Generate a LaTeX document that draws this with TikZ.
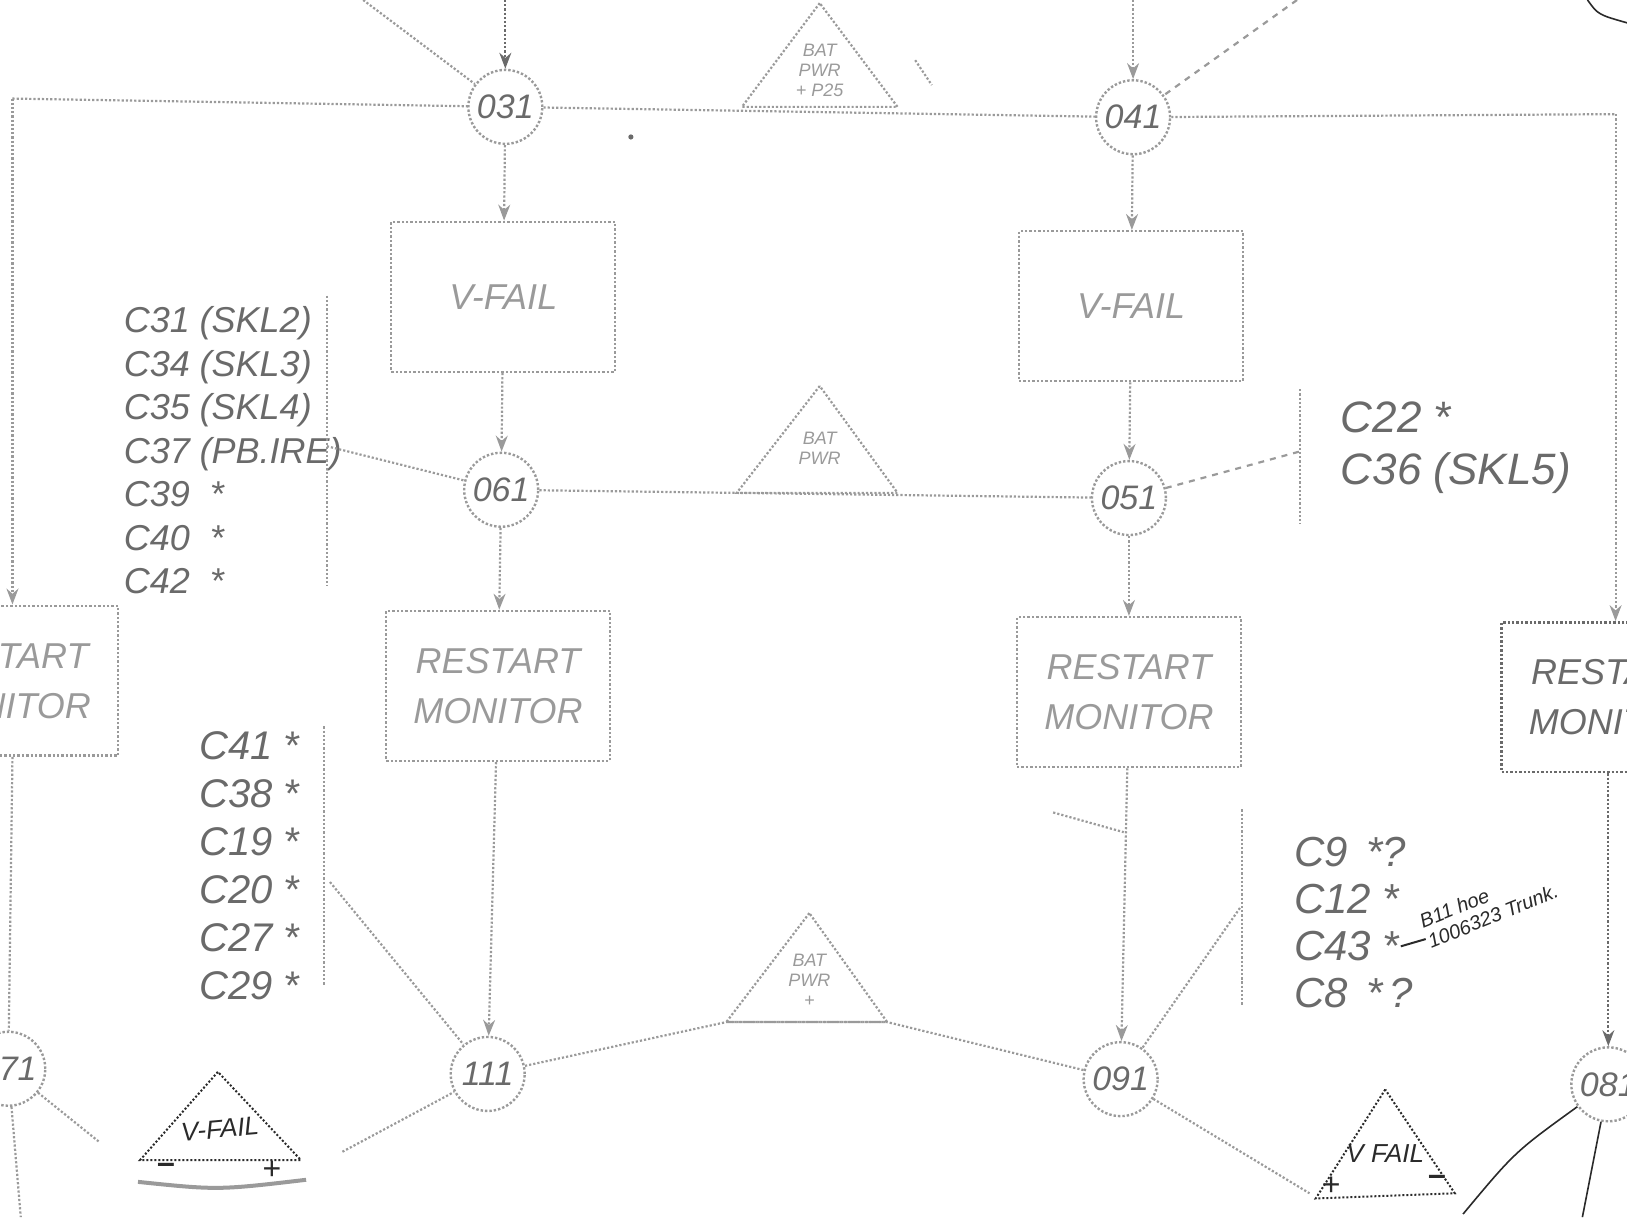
\documentclass[tikz,border=0pt]{standalone}
\usepackage{fontspec}
\setmainfont{Liberation Sans}
\usetikzlibrary{arrows.meta}
\definecolor{pencil}{HTML}{9A9A9A}
\definecolor{pencildark}{HTML}{6A6A6A}
\definecolor{inkblack}{HTML}{2A2A2A}

\begin{document}
\begin{tikzpicture}[
  x=0.519pt, y=-0.519pt,
  >=Stealth,
  line width=0.9pt,
  junction/.style={circle, draw=pencil, densely dotted, line width=1.2pt, minimum size=37pt, inner sep=0pt, font=\fontsize{17}{20}\selectfont\itshape, text=pencildark},
  block/.style={rectangle, draw=pencil, densely dotted, line width=1.2pt, minimum width=112pt, minimum height=75pt, align=center, font=\fontsize{18}{25}\selectfont\itshape, text=pencil},
  gate/.style={draw=pencil, densely dotted, line width=1.1pt},
  gatetext/.style={align=center, font=\fontsize{9}{10}\selectfont\itshape, text=pencil},
  notes/.style={align=left, anchor=north west, text=pencildark, font=\fontsize{19}{22}\selectfont\itshape},
  wire/.style={draw=pencil, densely dotted, line width=1.1pt},
  flow/.style={->, draw=pencil, densely dotted, line width=1.1pt},
  ink/.style={draw=inkblack, line width=1pt}
]
  \useasboundingbox (0,0) rectangle (1568,1173);
  \clip (0,0) rectangle (1568,1173);

  % junctions
  \node[junction] (c031) at (487,103) {031};
  \node[junction] (c041) at (1092,113) {041};
  \node[junction] (c061) at (483,472) {061};
  \node[junction] (c051) at (1088,480) {051};
  \node[junction] (c111) at (470,1035) {111};
  \node[junction] (c091) at (1080,1040) {091};
  \node[junction] (c071) at (8,1030) {071};
  \node[junction] (c081) at (1550,1045) {081};

  % blocks
  \node[block] (vfailL) at (485,286) {V-FAIL};
  \node[block] (vfailR) at (1090,295) {V-FAIL};
  \node[block] (rmL) at (480,661) {RESTART\\MONITOR};
  \node[block] (rmR) at (1088,667) {RESTART\\MONITOR};
  \node[block] (rmW) at (6,656) {RESTART\\MONITOR};
  \node[block, draw=pencildark, text=pencildark] (rmE) at (1555,672) {RESTART\\MONITOR};

  % gates
  \draw[gate] (790,3) -- (715,103) -- (865,103) -- cycle;
  \node[gatetext] (batTop) at (790,68) {BAT\\PWR\\+ P25};
  \draw[gate] (790,372) -- (710,475) -- (865,475) -- cycle;
  \node[gatetext] (batMid) at (790,432) {BAT\\PWR};
  \draw[gate] (780,880) -- (700,985) -- (855,985) -- cycle;
  \node[gatetext] (batLow) at (780,945) {BAT\\PWR\\+};

  \draw[ink, densely dotted] (210,1033) -- (135,1118) -- (290,1118) -- cycle;
  \node[text=inkblack, font=\fontsize{13}{14}\selectfont\itshape, rotate=5] (vfL) at (212,1088) {V-FAIL};
  \node[text=inkblack, font=\fontsize{16}{16}\selectfont\bfseries] (vfLm) at (160,1126) {--};
  \node[text=inkblack, font=\fontsize{16}{16}\selectfont] (vfLp) at (262,1128) {+};
  \draw[draw=pencil, line width=2pt] (133,1139) .. controls (210,1147) .. (295,1137);
  \draw[ink, densely dotted] (1335,1050) -- (1268,1155) -- (1402,1150) -- cycle;
  \node[text=inkblack, font=\fontsize{13}{14}\selectfont\itshape] (vfR) at (1335,1112) {V FAIL};
  \node[text=inkblack, font=\fontsize{16}{16}\selectfont] (vfRp) at (1283,1143) {+};
  \node[text=inkblack, font=\fontsize{16}{16}\selectfont\bfseries] (vfRm) at (1385,1138) {--};

  % notes
  \node[notes, font=\fontsize{18}{21.8}\selectfont\itshape] (listA) at (112,288) {C31 (SKL2)\\C34 (SKL3)\\C35 (SKL4)\\C37 (PB.IRE)\\C39 \ *\\C40 \ *\\C42 \ *};
  \node[notes, font=\fontsize{20}{24}\selectfont\itshape] (listB) at (185,698) {C41 *\\C38 *\\C19 *\\C20 *\\C27 *\\C29 *};
  \node[notes, font=\fontsize{22}{26}\selectfont\itshape] (listC) at (1285,380) {C22 *\\C36 (SKL5)};
  \node[notes, font=\fontsize{21}{23.4}\selectfont\itshape] (listD) at (1240,800) {C9 \,*?\\C12 *\\C43 *\\C8 \,*\,?};
  \node[anchor=south west, rotate=22, align=left, text=inkblack, font=\fontsize{10}{11}\selectfont\itshape, inner sep=1pt] (bnote) at (1378,918) {B11 hoe\\1006323 Trunk.};
  \draw[ink] (1350,912) -- (1374,905);

  % brackets
  \coordinate (brA1) at (315,285);
  \coordinate (brA2) at (315,565);
  \draw[wire] (brA1) -- (brA2);
  \coordinate (brB1) at (312,700);
  \coordinate (brB2) at (312,950);
  \draw[wire] (brB1) -- (brB2);
  \coordinate (brC1) at (1253,375);
  \coordinate (brC2) at (1253,505);
  \draw[wire] (brC1) -- (brC2);
  \coordinate (brD1) at (1197,780);
  \coordinate (brD2) at (1197,970);
  \draw[wire] (brD1) -- (brD2);

  % outer loop
  \coordinate (tl) at (12,95);
  \coordinate (tr) at (1557,110);
  \draw[wire] (tl) -- (c031);
  \draw[wire] (c031) -- (c041);
  \draw[wire] (c041) -- (tr);
  \draw[flow] (tl) -- (tl |- rmW.north);
  \draw[flow] (tr) -- (tr |- rmE.north);
  \draw[wire] (rmW.south -| tl) -- (c071);
  \draw[flow, draw=pencildark] (rmE.south -| c081) -- (c081);

  % inputs from above
  \coordinate (in031) at (487,0);
  \coordinate (in041) at (1092,0);
  \coordinate (dg031) at (350,0);
  \coordinate (dg041) at (1250,0);
  \draw[flow, draw=pencildark] (in031) -- (c031);
  \draw[flow] (in041) -- (c041);
  \draw[wire] (dg031) -- (c031);
  \draw[draw=pencil, dashed, line width=1.1pt] (dg041) -- (c041);

  % main columns
  \draw[flow] (c031) -- (vfailL);
  \draw[flow] (c041) -- (vfailR);
  \draw[flow] (vfailL) -- (c061);
  \draw[flow] (vfailR) -- (c051);
  \draw[flow] (c061) -- (rmL);
  \draw[flow] (c051) -- (rmR);
  \draw[flow] (rmL) -- (c111);
  \draw[flow] (rmR) -- (c091);
  \draw[wire] (c061) -- (c051);

  % side links
  \coordinate (tapA) at (315,430);
  \coordinate (tapB) at (318,850);
  \coordinate (tapC) at (1253,435);
  \coordinate (tapD) at (1195,875);
  \draw[wire] (tapA) -- (c061);
  \draw[wire] (tapB) -- (c111);
  \draw[draw=pencil, dashed, line width=1.1pt] (c051) -- (tapC);
  \draw[wire] (tapD) -- (c091);

  % bottom links
  \coordinate (gbl) at (700,985);
  \coordinate (gbr) at (855,985);
  \coordinate (vfLr) at (330,1110);
  \coordinate (vfRl) at (1262,1150);
  \draw[wire] (c111) -- (gbl) -- (gbr) -- (c091);
  \draw[wire] (vfLr) -- (c111);
  \draw[wire] (c091) -- (vfRl);
  \coordinate (lowW1) at (95,1100);
  \coordinate (lowW2) at (20,1173);
  \draw[wire] (c071) -- (lowW1);
  \draw[wire] (c071) -- (lowW2);
  \coordinate (lowE1) at (1410,1170);
  \coordinate (lowE2) at (1525,1173);
  \draw[ink, line width=0.8pt] (c081) .. controls (1460,1110) .. (lowE1);
  \draw[ink, line width=0.8pt] (c081) -- (lowE2);

  % stray marks
  \coordinate (mk1) at (1015,783);
  \coordinate (mk2) at (1083,802);
  \draw[wire] (mk1) -- (mk2);
  \draw[wire] (882,58) -- (898,82);
  \draw[ink, line width=0.8pt] (1530,0) .. controls (1540,14) .. (1568,22);
  \fill[pencildark] (608,132) circle (2.5);
\end{tikzpicture}
\end{document}
